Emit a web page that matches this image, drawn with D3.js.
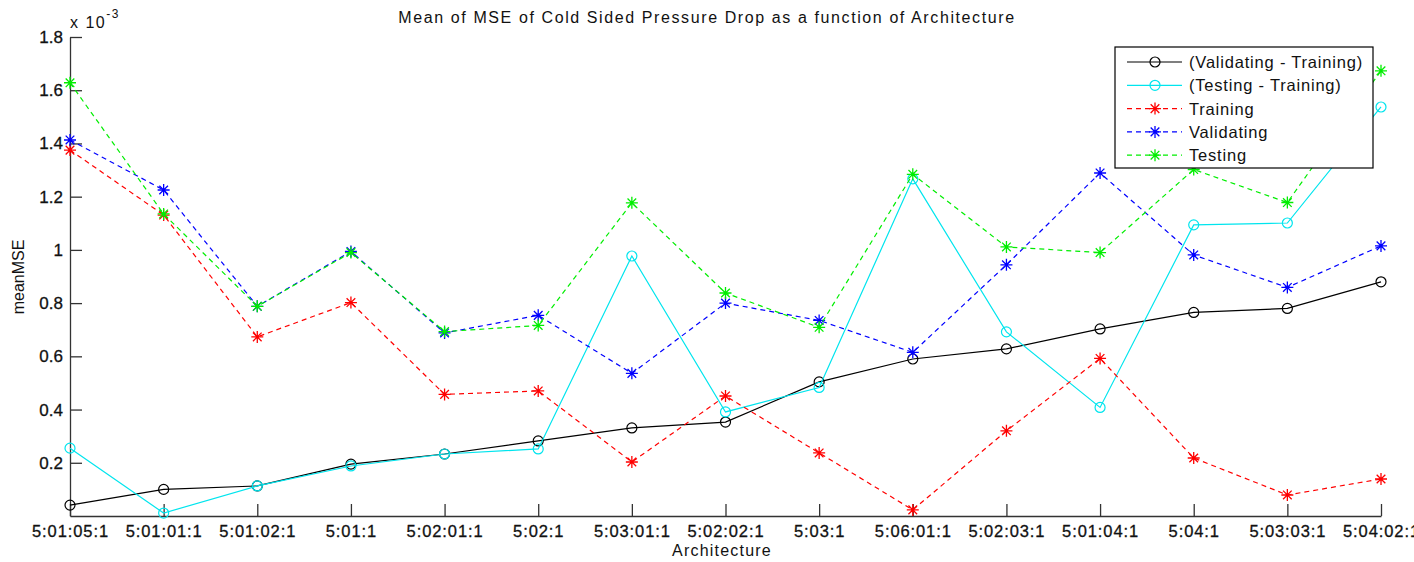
<!DOCTYPE html>
<html>
<head>
<meta charset="utf-8">
<script src="https://cdnjs.cloudflare.com/ajax/libs/d3/7.8.5/d3.min.js"></script>
<style>
  body { margin: 0; background: #fff; }
  svg { font-family: "Liberation Sans", Arial, sans-serif; }
  .axis path, .axis line { stroke: #333; stroke-width: 1.3; }
  .axis text { fill: #111; stroke: #111; stroke-width: 0.3px; }
</style>
</head>
<body>
<div class="chart"></div>
<script>
// architectures on the x axis
const categories = ["5:01:05:1", "5:01:01:1", "5:01:02:1", "5:01:1", "5:02:01:1", "5:02:1", "5:03:01:1",
    "5:02:02:1", "5:03:1", "5:06:01:1", "5:02:03:1", "5:01:04:1", "5:04:1", "5:03:03:1", "5:04:02:1"];

// mean MSE values, in units of 10^-3
const valMinusTrain = [0.041, 0.100, 0.113, 0.195, 0.233, 0.282, 0.331, 0.353, 0.504, 0.590, 0.628, 0.703, 0.765, 0.780, 0.880];
const testMinusTrain = [0.255, 0.011, 0.113, 0.188, 0.233, 0.252, 0.977, 0.391, 0.483, 1.267, 0.692, 0.408, 1.094, 1.101, 1.537];
const training = [1.375, 1.131, 0.673, 0.802, 0.457, 0.470, 0.203, 0.451, 0.237, 0.023, 0.320, 0.592, 0.218, 0.079, 0.139];
const validating = [1.413, 1.225, 0.788, 0.994, 0.688, 0.754, 0.536, 0.800, 0.735, 0.615, 0.944, 1.289, 0.981, 0.859, 1.015];
const testing = [1.628, 1.135, 0.788, 0.990, 0.693, 0.716, 1.177, 0.838, 0.709, 1.284, 1.011, 0.990, 1.302, 1.178, 1.673];

// y tick values and their labels
const yTicks = [0.2, 0.4, 0.6, 0.8, 1.0, 1.2, 1.4, 1.6, 1.8];
const yTickLabels = ["0.2", "0.4", "0.6", "0.8", "1", "1.2", "1.4", "1.6", "1.8"];

// series list, in plotting (and legend) order
const series = [
    { name: "(Validating - Training)", values: valMinusTrain, color: "#000000", dash: null, marker: "circle" },
    { name: "(Testing - Training)", values: testMinusTrain, color: "#00e5ee", dash: null, marker: "circle" },
    { name: "Training", values: training, color: "#ff0000", dash: "5,4", marker: "star" },
    { name: "Validating", values: validating, color: "#0000ff", dash: "5,4", marker: "star" },
    { name: "Testing", values: testing, color: "#00ee00", dash: "5,4", marker: "star" },
];

const svg_width = 1414;
const svg_height = 562;
const margin = { top: 37, right: 33, bottom: 46, left: 70 };
const width = svg_width - margin.left - margin.right;
const height = svg_height - margin.top - margin.bottom;

const svg = d3.select('.chart').append('svg')
    .attr('width', svg_width).attr('height', svg_height);
const g = svg.append('g').attr('transform', `translate(${margin.left},${margin.top})`);

const X_scale = d3.scalePoint().domain(categories).range([0, width]);
const Y_scale = d3.scaleLinear().domain([0, 1.8]).range([height, 0]);

// axes (ticks point inward, MATLAB style)
const xAxis = d3.axisBottom(X_scale).tickSizeInner(-12).tickSizeOuter(0).tickPadding(9);
const yAxis = d3.axisLeft(Y_scale).tickValues(yTicks)
    .tickFormat((d, i) => yTickLabels[i]).tickSizeInner(-12).tickSizeOuter(0).tickPadding(7);

g.append('g').attr('class', 'x axis').attr('transform', `translate(0,${height})`).call(xAxis)
    .selectAll('text').style('font-size', '16.5px').style('letter-spacing', '0.9px');
g.append('g').attr('class', 'y axis').call(yAxis)
    .selectAll('text').style('font-size', '17px');

// asterisk marker path
function starPath(r) {
    const d = r * 0.72;
    return `M${-r},0L${r},0M0,${-r}L0,${r}M${-d},${-d}L${d},${d}M${-d},${d}L${d},${-d}`;
}

const line = d3.line().x((d, i) => X_scale(categories[i])).y(d => Y_scale(d));

function drawMarker(sel, s) {
    if (s.marker === "circle") {
        sel.append('circle').attr('r', 5).attr('fill', 'none')
            .attr('stroke', s.color).attr('stroke-width', 1.2);
    } else {
        sel.append('path').attr('d', starPath(6)).attr('fill', 'none')
            .attr('stroke', s.color).attr('stroke-width', 1.3);
    }
}

series.forEach(s => {
    const sg = g.append('g').attr('class', 'series');
    sg.append('path').datum(s.values).attr('d', line)
        .attr('fill', 'none').attr('stroke', s.color).attr('stroke-width', 1.2)
        .attr('stroke-dasharray', s.dash);
    sg.selectAll('.mk').data(s.values).join('g').attr('class', 'mk')
        .attr('transform', (d, i) => `translate(${X_scale(categories[i])},${Y_scale(d)})`)
        .each(function () { drawMarker(d3.select(this), s); });
});

// title
svg.append('text').attr('x', 707).attr('y', 23).attr('text-anchor', 'middle')
    .style('font-size', '16px').style('letter-spacing', '1.6px').style('fill', '#111')
    .text('Mean of MSE of Cold Sided Pressure Drop as a function of Architecture');

// exponent label
const expo = svg.append('text').attr('x', 70).attr('y', 28).style('font-size', '16px')
    .style('letter-spacing', '1.5px').style('fill', '#111');
expo.append('tspan').text('x 10');
expo.append('tspan').attr('dy', -10).style('font-size', '12px').text('-3');

// axis labels
svg.append('text').attr('x', 722).attr('y', 556).attr('text-anchor', 'middle')
    .style('font-size', '16px').style('letter-spacing', '1.2px').style('fill', '#111').text('Architecture');
svg.append('text').attr('transform', 'translate(24,277) rotate(-90)').attr('text-anchor', 'middle')
    .style('font-size', '16px').style('fill', '#111').text('meanMSE');

// legend
const legend = svg.append('g').attr('transform', 'translate(1115,47)');
legend.append('rect').attr('width', 258).attr('height', 121)
    .attr('fill', '#fff').attr('stroke', '#000').attr('stroke-width', 1.2);
series.forEach((s, i) => {
    const row = legend.append('g').attr('transform', `translate(0,${15 + i * 23.3})`);
    row.append('line').attr('x1', 12).attr('x2', 67).attr('y1', 0).attr('y2', 0)
        .attr('stroke', s.color).attr('stroke-width', 1.2).attr('stroke-dasharray', s.dash);
    const mk = row.append('g').attr('transform', 'translate(40,0)');
    drawMarker(mk, s);
    row.append('text').attr('x', 74).attr('y', 6).style('font-size', '16.5px')
        .style('letter-spacing', '0.8px').style('fill', '#111').text(s.name);
});
</script>
</body>
</html>
